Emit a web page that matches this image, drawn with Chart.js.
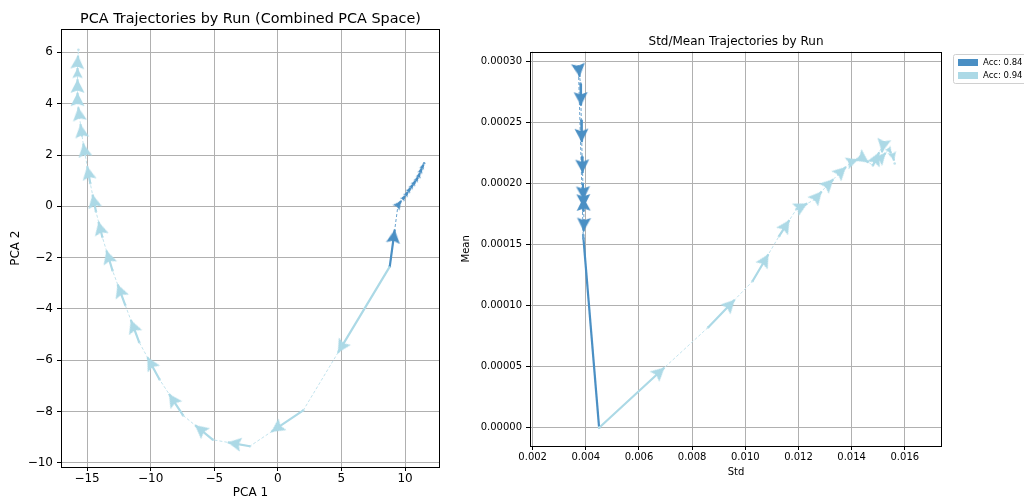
<!DOCTYPE html>
<html>
<head>
<meta charset="utf-8">
<title>Trajectories by Run</title>
<script src="https://cdn.jsdelivr.net/npm/chart.js@4.4.0/dist/chart.umd.min.js"></script>
<style>
  html, body { margin: 0; padding: 0; width: 1024px; height: 503px; overflow: hidden; background: #fff; }
  #pcaBox { position: absolute; left: 0; top: 0; width: 460px; height: 503px; }
  #stdBox { position: absolute; left: 455px; top: 0; width: 620px; height: 503px; }
</style>
</head>
<body>
<div id="pcaBox"><canvas id="pcaChart"></canvas></div>
<div id="stdBox"><canvas id="stdChart"></canvas></div>
<script>
// runs
var runLabels = ['Acc: 0.84', 'Acc: 0.94'];

// PCA space, run 0.84
var pcaRun84X = [8.8, 9.45, 9.86, 10.1, 10.31, 10.52, 10.7, 10.92, 11.07, 11.23, 11.37, 11.5];
var pcaRun84Y = [-2.35, 0.05, 0.31, 0.47, 0.63, 0.77, 0.9, 1.05, 1.18, 1.38, 1.54, 1.68];
// PCA space, run 0.94
var pcaRun94X = [8.8, 2.0, -2.2, -5.1, -7.45, -9.3, -10.9, -12.0, -13.0, -13.8, -14.3, -14.75, -15.15, -15.4, -15.6, -15.75, -15.75, -15.75, -15.75, -15.68];
var pcaRun94Y = [-2.35, -7.95, -9.35, -9.1, -8.15, -6.75, -5.3, -3.85, -2.5, -1.2, -0.2, 0.9, 2.0, 2.75, 3.5, 4.1, 4.65, 5.15, 5.55, 6.1];

// std / mean, run 0.84
var stdRun84X = [0.00450, 0.00390, 0.00372, 0.00380, 0.00383, 0.00386, 0.00389, 0.00392, 0.00390, 0.00393, 0.00391];
var stdRun84Y = [0.000000, 0.000158, 0.000296, 0.000282, 0.000252, 0.000222, 0.000200, 0.000178, 0.000196, 0.000170, 0.000155];
// std / mean, run 0.94
var stdRun94X = [0.00450, 0.00860, 0.01027, 0.01127, 0.01192, 0.01261, 0.01305, 0.01349, 0.01399, 0.01440, 0.01480, 0.01520, 0.01510, 0.01540, 0.01555, 0.01562];
var stdRun94Y = [0.000000, 0.0000822, 0.000120, 0.000157, 0.000179, 0.000187, 0.000198, 0.0002075, 0.000218, 0.000221, 0.000215, 0.000233, 0.000221, 0.000228, 0.000223, 0.0002165];

// ticks
var pcaXTicks = [-15, -10, -5, 0, 5, 10];
var pcaXTickLabels = ['\u221215', '\u221210', '\u22125', '0', '5', '10'];
var pcaYTicks = [-10, -8, -6, -4, -2, 0, 2, 4, 6];
var pcaYTickLabels = ['\u221210', '\u22128', '\u22126', '\u22124', '\u22122', '0', '2', '4', '6'];
var stdXTicks = [0.002, 0.004, 0.006, 0.008, 0.010, 0.012, 0.014, 0.016];
var stdXTickLabels = ['0.002', '0.004', '0.006', '0.008', '0.010', '0.012', '0.014', '0.016'];
var stdYTicks = [0, 0.00005, 0.0001, 0.00015, 0.0002, 0.00025, 0.0003];
var stdYTickLabels = ['0.00000', '0.00005', '0.00010', '0.00015', '0.00020', '0.00025', '0.00030'];

var darkColor = '#4a8fc4';
var darkDash = '#6aa3cf';
var lightColor = '#acd9e6';
var lightDash = '#c2e3ed';
var arrowFraction = 0.6;
var stdRun84ArrowStart = 2;

Chart.defaults.font.family = 'DejaVu Sans';
Chart.defaults.color = '#000';

var arrowCache = {};
function arrowImage(color, len) {
  var key = color + '|' + len;
  if (arrowCache[key]) return arrowCache[key];
  var k = Math.max(0.35, Math.min(1, len / 8));
  var hl = 13.5 * k, hw = 7 * k, na = 11.5 * k, sw = 1.3 * k;
  var size = Math.ceil(2 * hl + 4);
  var c = document.createElement('canvas');
  c.width = size; c.height = size;
  var g = c.getContext('2d');
  var cx = size / 2, cy = size / 2;
  g.fillStyle = color;
  g.beginPath();
  g.moveTo(cx, cy);
  g.lineTo(cx - hl, cy - hw);
  g.lineTo(cx - na, cy - sw);
  g.lineTo(cx - na, cy + sw);
  g.lineTo(cx - hl, cy + hw);
  g.closePath();
  g.fill();
  arrowCache[key] = c;
  return c;
}

function pixDelta(c) {
  var xs = c.chart.scales.x, ys = c.chart.scales.y;
  return {
    dx: xs.getPixelForValue(c.raw.x) - xs.getPixelForValue(c.raw.fx),
    dy: ys.getPixelForValue(c.raw.y) - ys.getPixelForValue(c.raw.fy)
  };
}

function pts(xs, ys) {
  return xs.map(function (x, i) { return { x: x, y: ys[i] }; });
}

function shaftPoints(xs, ys, start) {
  var out = [];
  for (var i = start; i < xs.length - 1; i++) {
    out.push({ x: xs[i], y: ys[i] });
    out.push({ x: xs[i] + arrowFraction * (xs[i + 1] - xs[i]), y: ys[i] + arrowFraction * (ys[i + 1] - ys[i]) });
    out.push({ x: xs[i], y: null });
  }
  return out;
}

function headPoints(xs, ys, start) {
  var out = [];
  for (var i = start; i < xs.length - 1; i++) {
    out.push({
      x: xs[i] + arrowFraction * (xs[i + 1] - xs[i]),
      y: ys[i] + arrowFraction * (ys[i + 1] - ys[i]),
      fx: xs[i], fy: ys[i]
    });
  }
  return out;
}

function runDatasets(xs, ys, color, dash, start, solidFirst) {
  var line = {
    data: pts(xs, ys), showLine: true, borderColor: dash, borderWidth: 1, borderDash: [3, 2],
    pointRadius: 1.3, pointBackgroundColor: dash, pointBorderWidth: 0, order: 3
  };
  if (solidFirst) {
    line.segment = {
      borderDash: function (s) { return s.p0DataIndex === 0 ? [] : [3, 2]; },
      borderWidth: function (s) { return s.p0DataIndex === 0 ? 2.2 : 1; },
      borderColor: function (s) { return s.p0DataIndex === 0 ? color : dash; }
    };
  }
  return [
    line,
    { data: shaftPoints(xs, ys, start), showLine: true, spanGaps: false, borderColor: color, borderWidth: 2.2, pointRadius: 0, order: 2 },
    {
      data: headPoints(xs, ys, start), showLine: false, pointRadius: 3, order: 1,
      pointStyle: function (c) {
        if (!c.raw) return 'circle';
        var d = pixDelta(c);
        return arrowImage(color, Math.round(Math.sqrt(d.dx * d.dx + d.dy * d.dy)));
      },
      pointRotation: function (c) {
        if (!c.raw) return 0;
        var d = pixDelta(c);
        return Math.atan2(d.dy, d.dx) * 180 / Math.PI;
      }
    }
  ];
}

var framePlugin = {
  id: 'frame',
  afterDatasetsDraw: function (chart) {
    var a = chart.chartArea, ctx = chart.ctx;
    ctx.save();
    ctx.strokeStyle = '#000';
    ctx.lineWidth = 1;
    ctx.strokeRect(Math.round(a.left) + 0.5, Math.round(a.top) + 0.5, Math.round(a.right - a.left) - 1, Math.round(a.bottom - a.top));
    ctx.restore();
  }
};

var legendPlugin = {
  id: 'boxLegend',
  afterDraw: function (chart) {
    var ctx = chart.ctx, a = chart.chartArea;
    var left = a.right + 11, top = 54;
    var colors = [darkColor, lightColor];
    ctx.save();
    ctx.fillStyle = 'rgba(255,255,255,0.8)';
    ctx.strokeStyle = '#d0d0d0';
    ctx.lineWidth = 1;
    ctx.beginPath();
    ctx.roundRect(left + 0.5, top + 0.5, 90, 29, 2);
    ctx.fill();
    ctx.stroke();
    ctx.font = '8.5px "DejaVu Sans"';
    ctx.textBaseline = 'middle';
    runLabels.forEach(function (lab, i) {
      var cy = top + 8.5 + i * 13;
      ctx.fillStyle = colors[i];
      ctx.fillRect(left + 5, cy - 3.5, 20, 7);
      ctx.fillStyle = '#000';
      ctx.fillText(lab, left + 30, cy + 0.5);
    });
    ctx.restore();
  }
};

function axis(min, max, ticks, labels, fontSize, pad, title, titlePad, fit) {
  return {
    type: 'linear', min: min, max: max,
    afterBuildTicks: function (s) { s.ticks = ticks.map(function (v) { return { value: v }; }); },
    afterFit: fit,
    ticks: {
      autoSkip: false, padding: pad, color: '#000', font: { size: fontSize },
      callback: function (v, i) { return labels[i]; }
    },
    grid: { color: '#b0b0b0', lineWidth: 1, drawTicks: true, tickLength: 4, tickColor: '#000', tickWidth: 1 },
    border: { display: false },
    title: { display: true, text: title, color: '#000', font: { size: fontSize }, padding: titlePad }
  };
}

var pcaSets = runDatasets(pcaRun94X, pcaRun94Y, lightColor, lightDash, 0, false)
  .concat(runDatasets(pcaRun84X, pcaRun84Y, darkColor, darkDash, 0, false));

new Chart(document.getElementById('pcaChart'), {
  type: 'scatter',
  data: { datasets: pcaSets },
  options: {
    responsive: true, maintainAspectRatio: false, animation: false, events: [],
    layout: { padding: { left: 0, right: 20, top: 0, bottom: 0 } },
    plugins: {
      legend: { display: false }, tooltip: { enabled: false },
      title: {
        display: true, text: 'PCA Trajectories by Run (Combined PCA Space)', fullSize: false,
        color: '#000', font: { size: 14.4, weight: 'normal' }, padding: { top: 11, bottom: 1 }
      }
    },
    scales: {
      x: axis(-17.05, 12.75, pcaXTicks, pcaXTickLabels, 12, 1, 'PCA 1', { top: 0, bottom: 3 }, function (s) { s.height = 36; }),
      y: axis(-10.16, 6.9, pcaYTicks, pcaYTickLabels, 12, 4, 'PCA 2', { top: 9, bottom: 0 }, function (s) { s.width = 61; })
    }
  },
  plugins: [framePlugin]
});

var stdSets = runDatasets(stdRun94X, stdRun94Y, lightColor, lightDash, 0, false)
  .concat(runDatasets(stdRun84X, stdRun84Y, darkColor, darkDash, stdRun84ArrowStart, true));

new Chart(document.getElementById('stdChart'), {
  type: 'scatter',
  data: { datasets: stdSets },
  options: {
    responsive: true, maintainAspectRatio: false, animation: false, events: [],
    layout: { padding: { left: 0, right: 133, top: 0, bottom: 0 } },
    plugins: {
      legend: { display: false }, tooltip: { enabled: false },
      title: {
        display: true, text: 'Std/Mean Trajectories by Run', fullSize: false,
        color: '#000', font: { size: 12, weight: 'normal' }, padding: { top: 35, bottom: 2.3 }
      }
    },
    scales: {
      x: axis(0.0019, 0.0174, stdXTicks, stdXTickLabels, 10, 1, 'Std', { top: 0, bottom: 25 }, function (s) { s.height = 57; }),
      y: axis(-0.000015, 0.0003082, stdYTicks, stdYTickLabels, 10, 4, 'Mean', { top: 5, bottom: 0 }, function (s) { s.width = 75; })
    }
  },
  plugins: [framePlugin, legendPlugin]
});
</script>
</body>
</html>
